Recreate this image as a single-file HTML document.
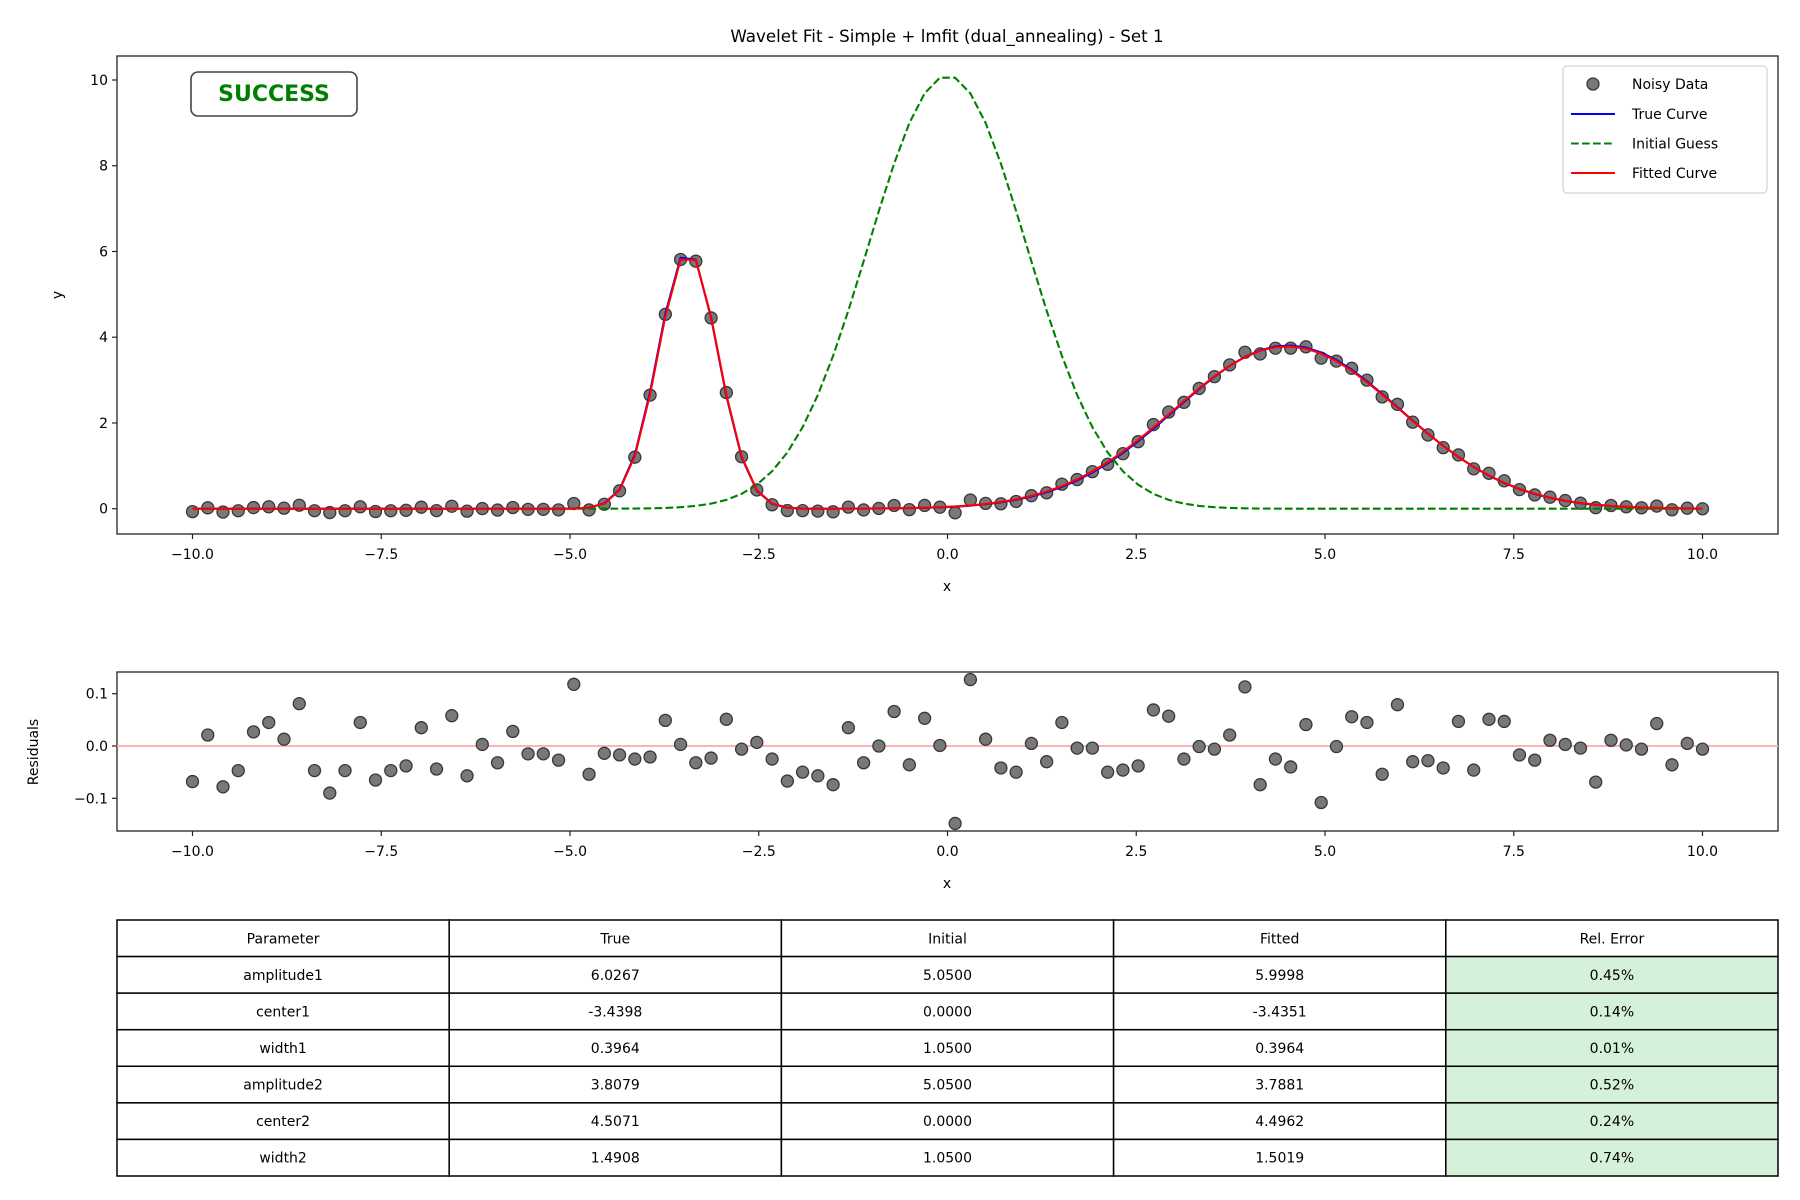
<!DOCTYPE html>
<html><head><meta charset="utf-8"><style>
html,body{margin:0;padding:0;background:#fff;}
svg{display:block;font-family:"DejaVu Sans","Liberation Sans",sans-serif;}
</style></head><body>
<svg id="fig" width="1800" height="1200" viewBox="0 0 1800 1200" xmlns="http://www.w3.org/2000/svg">
<rect width="1800" height="1200" fill="#fff"/>
<text x="947" y="42" text-anchor="middle" font-size="16.7" fill="#000">Wavelet Fit - Simple + lmfit (dual_annealing) - Set 1</text>
<g id="main"></g>
<g id="resid"></g>
<g id="table"></g>
</svg>
<script>
// ---- data ----
const nPoints = 100;
const xStart = -10, xEnd = 10;
const paramNames = ["amplitude1","center1","width1","amplitude2","center2","width2"];
const trueParams = [6.0267, -3.4398, 0.3964, 3.8079, 4.5071, 1.4908];
const initParams = [5.05, 0.0, 1.05, 5.05, 0.0, 1.05];
const fitParams = [5.9998, -3.4351, 0.3964, 3.7881, 4.4962, 1.5019];
const relErrors = ["0.45%","0.14%","0.01%","0.52%","0.24%","0.74%"];
const residuals = [-0.068,0.021,-0.078,-0.047,0.027,0.045,0.013,0.081,-0.047,-0.090,
-0.047,0.045,-0.065,-0.047,-0.038,0.035,-0.044,0.058,-0.057,0.003,
-0.032,0.028,-0.015,-0.015,-0.027,0.118,-0.054,-0.014,-0.017,-0.025,
-0.021,0.049,0.003,-0.032,-0.023,0.051,-0.006,0.007,-0.025,-0.067,
-0.050,-0.057,-0.074,0.035,-0.032,0.000,0.066,-0.036,0.053,0.001,
-0.148,0.127,0.013,-0.042,-0.050,0.005,-0.030,0.045,-0.004,-0.004,
-0.050,-0.046,-0.038,0.069,0.057,-0.025,-0.001,-0.006,0.021,0.113,
-0.074,-0.025,-0.040,0.041,-0.108,-0.001,0.056,0.045,-0.054,0.079,
-0.030,-0.028,-0.042,0.047,-0.046,0.051,0.047,-0.017,-0.027,0.011,
0.003,-0.004,-0.069,0.011,0.002,-0.006,0.043,-0.036,0.005,-0.006];
const xTicks = [-10,-7.5,-5,-2.5,0,2.5,5,7.5,10];
const xTickLabels = ["−10.0","−7.5","−5.0","−2.5","0.0","2.5","5.0","7.5","10.0"];
const yTicks = [0,2,4,6,8,10];
const rTicks = [0.1,0,-0.1];
const rTickLabels = ["0.1","0.0","−0.1"];

// ---- scales ----
const NS="http://www.w3.org/2000/svg";
const AX={l:117,r:1778,t:56,b:534};
const RX={t:672,b:831};
const xDom=[-11,11], yDom=[-0.59,10.56], rDom=[-0.1625,0.1415];
const sx=v=>AX.l+(v-xDom[0])/(xDom[1]-xDom[0])*(AX.r-AX.l);
const sy=v=>AX.b-(v-yDom[0])/(yDom[1]-yDom[0])*(AX.b-AX.t);
const sr=v=>RX.b-(v-rDom[0])/(rDom[1]-rDom[0])*(RX.b-RX.t);
function mk(tag,attrs,parent,text){const e=document.createElementNS(NS,tag);for(const k in attrs)e.setAttribute(k,attrs[k]);if(text!==undefined)e.textContent=text;parent.appendChild(e);return e;}
function model(p,x){return p[0]*Math.exp(-Math.pow(x-p[1],2)/(2*p[2]*p[2]))+p[3]*Math.exp(-Math.pow(x-p[4],2)/(2*p[5]*p[5]));}
const xs=[];for(let i=0;i<nPoints;i++)xs.push(xStart+(xEnd-xStart)*i/(nPoints-1));
const noisy=xs.map((x,i)=>model(fitParams,x)+residuals[i]);

const main=document.getElementById('main');
const fr=mk('rect',{x:AX.l,y:AX.t,width:AX.r-AX.l,height:AX.b-AX.t,fill:'none',stroke:'#222','stroke-width':1.3},main);

xTicks.forEach((t,i)=>{
  mk('line',{x1:sx(t),x2:sx(t),y1:AX.b,y2:AX.b+5,stroke:'#222','stroke-width':1.2},main);
  const tl=mk('text',{x:sx(t),y:AX.b+25,'text-anchor':'middle','font-size':14},main,xTickLabels[i]);
  
  
});
yTicks.forEach(t=>{
  mk('line',{x1:AX.l-5,x2:AX.l,y1:sy(t),y2:sy(t),stroke:'#222','stroke-width':1.2},main);
  const tl=mk('text',{x:AX.l-9,y:sy(t)+5,'text-anchor':'end','font-size':14},main,String(t));
  
  
});
let t=mk('text',{x:947,y:591,'text-anchor':'middle','font-size':14},main,'x');

t=mk('text',{x:0,y:0,'text-anchor':'middle','font-size':14,transform:'translate(62,295) rotate(-90)'},main,'y');


xs.forEach((x,i)=>{
  const c=mk('circle',{cx:sx(x),cy:sy(noisy[i]),r:6,fill:'#787878',stroke:'#383838','stroke-width':1.3},main);
  
  
});
function curve(p,color,dash,name){
  const d=xs.map((x,i)=>(i?'L':'M')+sx(x).toFixed(2)+','+sy(model(p,x)).toFixed(2)).join('');
  const a={d:d,fill:'none',stroke:color,'stroke-width':2.1,'stroke-linejoin':'round'};
  if(dash)a['stroke-dasharray']=dash;
  const e=mk('path',a,main);
  
  
}
curve(trueParams,'#0000ff',null,'true-curve');
curve(initParams,'#008000','7.7 3.3','initial-guess-curve');
curve(fitParams,'#ff0000',null,'fitted-curve');

const sb=mk('g',{},main);
mk('rect',{x:191,y:72,width:166,height:44,rx:7,fill:'#fff',stroke:'#444','stroke-width':1.6},sb);
mk('text',{x:274,y:101,'text-anchor':'middle','font-size':22,'font-weight':'bold',fill:'#008000'},sb,'SUCCESS');

const lg=mk('g',{},main);
mk('rect',{x:1563,y:66,width:204,height:127,rx:4,fill:'#fff',stroke:'#d5d5d5','stroke-width':1.3},lg);
const legLabels=['Noisy Data','True Curve','Initial Guess','Fitted Curve'];
const legY=[84,114,143.5,173];
legLabels.forEach((lab,i)=>{
  const g=mk('g',{},lg);
  
  
  if(i===0)mk('circle',{cx:1593,cy:legY[i],r:6,fill:'#787878',stroke:'#383838','stroke-width':1.3},g);
  else{const col=['','#0000ff','#008000','#ff0000'][i];const a={x1:1571,x2:1615,y1:legY[i],y2:legY[i],stroke:col,'stroke-width':2.1};if(i===2)a['stroke-dasharray']='7.7 3.3';mk('line',a,g);}
  mk('text',{x:1632,y:legY[i]+5,'font-size':14},g,lab);
});

const rs=document.getElementById('resid');
const rf=mk('rect',{x:AX.l,y:RX.t,width:AX.r-AX.l,height:RX.b-RX.t,fill:'none',stroke:'#222','stroke-width':1.3},rs);

const zl=mk('line',{x1:AX.l,x2:AX.r,y1:sr(0),y2:sr(0),stroke:'#ffb3b3','stroke-width':2},rs);

xTicks.forEach((tk,i)=>{
  mk('line',{x1:sx(tk),x2:sx(tk),y1:RX.b,y2:RX.b+5,stroke:'#222','stroke-width':1.2},rs);
  const tl=mk('text',{x:sx(tk),y:RX.b+25,'text-anchor':'middle','font-size':14},rs,xTickLabels[i]);
  
  
});
rTicks.forEach((tk,i)=>{
  mk('line',{x1:AX.l-5,x2:AX.l,y1:sr(tk),y2:sr(tk),stroke:'#222','stroke-width':1.2},rs);
  const tl=mk('text',{x:AX.l-9,y:sr(tk)+5,'text-anchor':'end','font-size':14},rs,rTickLabels[i]);
  
  
});
t=mk('text',{x:947,y:888,'text-anchor':'middle','font-size':14},rs,'x');

t=mk('text',{x:0,y:0,'text-anchor':'middle','font-size':14,transform:'translate(38,752) rotate(-90)'},rs,'Residuals');

xs.forEach((x,i)=>{
  const c=mk('circle',{cx:sx(x),cy:sr(residuals[i]),r:6,fill:'#787878',stroke:'#383838','stroke-width':1.3},rs);
  
  
});

const tb=document.getElementById('table');
const T={l:117,r:1778,t:920,b:1176};
const cw=(T.r-T.l)/5, rh=(T.b-T.t)/7;
const header=['Parameter','True','Initial','Fitted','Rel. Error'];
const rows=paramNames.map((n,i)=>[n,trueParams[i].toFixed(4),initParams[i].toFixed(4),fitParams[i].toFixed(4),relErrors[i]]);
const all=[header].concat(rows);
all.forEach((row,r)=>{
  row.forEach((val,c)=>{
    const g=mk('g',{},tb);
    
    
    mk('rect',{x:T.l+c*cw,y:T.t+r*rh,width:cw,height:rh,fill:(r>0&&c===4)?'#d6f1da':'#fff',stroke:'#000','stroke-width':1.5},g);
    mk('text',{x:T.l+c*cw+cw/2,y:T.t+r*rh+rh/2+5,'text-anchor':'middle','font-size':14},g,val);
  });
});
</script>
</body></html>
